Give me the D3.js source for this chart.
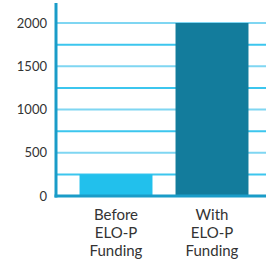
<!DOCTYPE html>
<html lang="en">
<head>
<meta charset="UTF-8">
<title>ELO-P Funding</title>
<style>
    body { margin: 0; background: #fff; }
    svg { display: block; }
    text { font-family: Lato, "Open Sans", sans-serif; fill: #333; }
</style>
</head>
<body>
<svg id="chart" width="266" height="263"></svg>
<script src="https://d3js.org/d3.v7.min.js"></script>
<script>
// chart data
const categories = ["Before ELO-P Funding", "With ELO-P Funding"];
const labelLines = [["Before", "ELO-P", "Funding"], ["With", "ELO-P", "Funding"]];
const values = [250, 2000];
const barColors = ["#22c0ec", "#137c9c"];
const tickValues = [0, 500, 1000, 1500, 2000];
const gridValues = [250, 500, 750, 1000, 1250, 1500, 1750, 2000];

const svg = d3.select("#chart");
const plotLeft = 56, plotRight = 266, plotTop = 3, plotBottom = 196;

const y = d3.scaleLinear().domain([0, 2000]).range([plotBottom, 23]);
const x = d3.scaleBand().domain(categories).range([plotLeft, 272]).paddingInner(0.24).paddingOuter(0.245);

// gridlines
svg.selectAll(".grid")
    .data(gridValues)
    .enter()
    .append("line")
    .attr("x1", plotLeft)
    .attr("x2", plotRight)
    .attr("y1", d => y(d))
    .attr("y2", d => y(d))
    .attr("stroke", (d, i) => i % 2 ? "#7fd6f2" : "#3cc6ee")
    .attr("stroke-width", 2);

// bars
svg.selectAll(".bar")
    .data(values)
    .enter()
    .append("rect")
    .attr("x", (d, i) => x(categories[i]))
    .attr("y", d => y(d))
    .attr("width", x.bandwidth())
    .attr("height", d => plotBottom - y(d))
    .attr("fill", (d, i) => barColors[i]);

// axis lines
svg.append("line")
    .attr("x1", plotLeft).attr("x2", plotLeft)
    .attr("y1", plotTop).attr("y2", plotBottom + 1.5)
    .attr("stroke", "#1a9cc8").attr("stroke-width", 3);
svg.append("line")
    .attr("x1", plotLeft - 1.5).attr("x2", plotRight)
    .attr("y1", plotBottom).attr("y2", plotBottom)
    .attr("stroke", "#1a9cc8").attr("stroke-width", 3);

// y tick labels
svg.selectAll(".tick")
    .data(tickValues)
    .enter()
    .append("text")
    .attr("x", 47)
    .attr("y", d => y(d))
    .attr("dy", "0.35em")
    .attr("text-anchor", "end")
    .attr("font-size", 13)
    .text(d => d);

// category labels
categories.forEach((c, i) => {
    const t = svg.append("text")
        .attr("text-anchor", "middle")
        .attr("font-size", 15);
    labelLines[i].forEach((line, j) => {
        t.append("tspan")
            .attr("x", x(c) + x.bandwidth() / 2)
            .attr("y", 220 + j * 18)
            .text(line);
    });
});
</script>
</body>
</html>
